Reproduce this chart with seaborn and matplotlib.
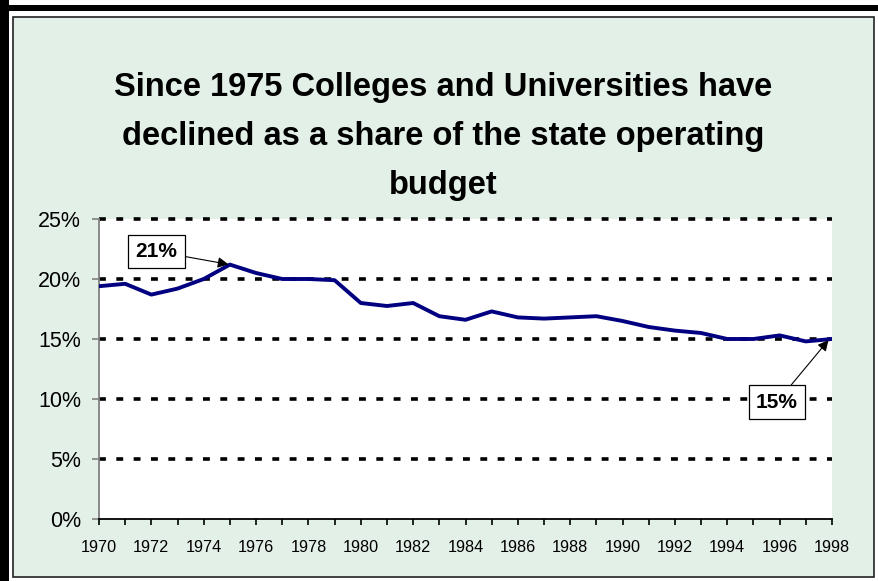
import matplotlib
matplotlib.use("Agg")
import matplotlib.pyplot as plt
from matplotlib.patches import Rectangle
import seaborn as sns
import pandas as pd

years = list(range(1970, 1999))
share = [19.4, 19.6, 18.7, 19.2, 20.0, 21.2, 20.5, 20.0, 20.0, 19.9,
         18.0, 17.75, 18.0, 16.9, 16.6, 17.3, 16.8, 16.7, 16.8, 16.9,
         16.5, 16.0, 15.7, 15.5, 15.0, 15.0, 15.3, 14.8, 15.0]
y_ticks = [0, 5, 10, 15, 20, 25]
y_tick_labels = ["0%", "5%", "10%", "15%", "20%", "25%"]
x_label_years = list(range(1970, 1999, 2))
title = ("Since 1975 Colleges and Universities have\n"
         "declined as a share of the state operating\n"
         "budget")
ann_labels = ["21%", "15%"]

df = pd.DataFrame({"year": years, "share": share})

sns.set_theme(style="white")
plt.rcParams["font.family"] = ["Liberation Sans", "DejaVu Sans"]
plt.rcParams["text.color"] = "black"

W, H = 879, 581
fig = plt.figure(figsize=(W / 100, H / 100), dpi=100, facecolor="white")

def px_rect(x0, y0, x1, y1, **kw):
    r = Rectangle((x0 / W, 1 - y1 / H), (x1 - x0) / W, (y1 - y0) / H,
                  transform=fig.transFigure, **kw)
    fig.patches.append(r)

# outer black bands (left and top)
px_rect(0, 0, 9, H, facecolor="black", edgecolor="none", zorder=-3)
px_rect(0, 5, W, 11, facecolor="black", edgecolor="none", zorder=-3)
# chart area frame
px_rect(13, 17, 874, 577, facecolor="#E3F0E8", edgecolor="#222222", linewidth=1.2, zorder=-2)

ax = fig.add_axes([99 / W, 1 - 519 / H, (832 - 99) / W, (519 - 219) / H])
ax.set_facecolor("white")

sns.lineplot(data=df, x="year", y="share", ax=ax, color="#000080", linewidth=2.8, zorder=3)

ax.set_xlim(1970, 1998)
ax.set_ylim(0, 25)
ax.set_xlabel("")
ax.set_ylabel("")

ax.set_yticks(y_ticks)
ax.set_yticklabels(y_tick_labels, fontsize=15.5)
ax.set_xticks(years)
ax.set_xticklabels([str(y) if y in x_label_years else "" for y in years], fontsize=11.7)

ax.yaxis.grid(True, color="black", linewidth=2.6, linestyle=(0, (1.9, 2.9)))
ax.xaxis.grid(False)
ax.set_axisbelow(True)

for s in ["top", "right"]:
    ax.spines[s].set_visible(False)
ax.spines["left"].set_color("#808080")
ax.spines["left"].set_linewidth(1.3)
ax.spines["bottom"].set_color("black")
ax.spines["bottom"].set_linewidth(1.3)

ax.tick_params(axis="y", left=True, direction="out", length=5, width=1.2, color="#808080",
               pad=8, labelcolor="black")
ax.tick_params(axis="x", bottom=True, direction="out", length=4, width=1.2, color="black",
               pad=11, labelcolor="black")

fig.canvas.draw()
for tick in ax.yaxis.get_major_ticks():
    tick.gridline.set_clip_on(False)
ax.yaxis.get_major_ticks()[0].gridline.set_visible(False)

fig.text(443 / W, 1 - 72 / H, title, ha="center", va="top", fontsize=23.5,
         fontweight="bold", color="black", linespacing=1.74)

box = dict(boxstyle="square,pad=0.35", facecolor="white", edgecolor="black", linewidth=0.9)
ax.annotate(ann_labels[0], xy=(years[5], share[5]), xytext=(1972.2, 22.3),
            ha="center", va="center", fontsize=15, fontweight="bold", color="black", bbox=box,
            arrowprops=dict(arrowstyle="-|>", color="black", lw=0.8, shrinkA=0, shrinkB=1,
                            mutation_scale=16), zorder=5, annotation_clip=False)
ax.annotate(ann_labels[1], xy=(years[-1] - 0.1, share[-1]), xytext=(1995.9, 9.75),
            ha="center", va="center", fontsize=15, fontweight="bold", color="black", bbox=box,
            arrowprops=dict(arrowstyle="-|>", color="black", lw=0.8, shrinkA=0, shrinkB=1,
                            mutation_scale=16), zorder=5, annotation_clip=False)

fig.savefig("out.png", dpi=100, facecolor="white")
